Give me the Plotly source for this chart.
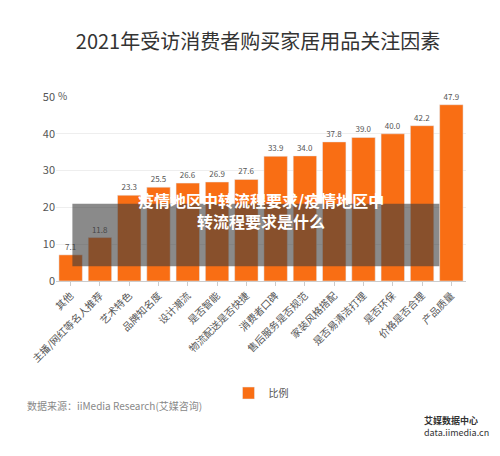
import plotly.graph_objects as go

categories = ["其他", "主播/网红等名人推荐", "艺术特色", "品牌知名度", "设计潮流", "是否智能",
              "物流配送是否快捷", "消费者口碑", "售后服务是否规范", "家装风格搭配",
              "是否易清洁打理", "是否环保", "价格是否合理", "产品质量"]
values = [7.1, 11.8, 23.3, 25.5, 26.6, 26.9, 27.6, 33.9, 34.0, 37.8, 39.0, 40.0, 42.2, 47.9]
yticks = [0, 10, 20, 30, 40, 50]

F = "Noto Sans CJK SC"
fig = go.Figure(go.Bar(
    x=categories, y=values, name="比例", marker_color="#F96E14",
    text=[f"{v:.1f}" for v in values], textposition="outside",
    textfont=dict(size=8, color="#555"), cliponaxis=False, width=0.8,
))
fig.update_layout(
    width=500, height=456, paper_bgcolor="white", plot_bgcolor="white",
    font=dict(family=F, color="#555"),
    margin=dict(l=48, r=42, t=89, b=183, autoexpand=False),
    title=dict(text="2021年受访消费者购买家居用品关注因素", x=0.5, xanchor="center",
               y=0.925, yanchor="middle", font=dict(size=20, color="#333")),
    showlegend=True,
    legend=dict(orientation="h", x=0.5, xanchor="center", y=-0.53, yanchor="top",
                font=dict(size=10, color="#555")),
    bargap=0.2,
)
fig.update_xaxes(tickangle=-45, tickfont=dict(size=10, color="#555"), showline=True,
                 linecolor="#ccc", ticks="outside", tickcolor="#ccc", ticklen=4,
                 automargin=False)
fig.update_yaxes(range=[0, 50], tickvals=yticks, tickfont=dict(size=11, color="#555"),
                 showgrid=True, gridcolor="#eee", zeroline=False, automargin=False)
fig.add_annotation(text="%", xref="paper", yref="paper", x=0.0, y=1.06, xanchor="left",
                   showarrow=False, font=dict(size=10, color="#555"))
fig.add_shape(type="rect", xref="paper", yref="paper", x0=0.04, x1=0.935, y0=0.08, y1=0.42,
              fillcolor="rgba(60,60,60,0.6)", line_width=0, layer="above")
fig.add_annotation(text="<b>疫情地区中转流程要求/疫情地区中<br>转流程要求是什么</b>",
                   xref="paper", yref="paper", x=0.5, y=0.25, showarrow=False,
                   font=dict(size=16, color="white", family=F))
fig.add_annotation(text="数据来源：iiMedia Research(艾媒咨询)", xref="paper", yref="paper",
                   x=-0.075, y=-0.73, xanchor="left", showarrow=False,
                   font=dict(size=10, color="#888"))
fig.add_annotation(text="<b>艾媒数据中心</b><br>data.iimedia.cn", xref="paper", yref="paper",
                   x=1.06, y=-0.87, xanchor="right", showarrow=False, align="left",
                   font=dict(size=9, color="#333"))
fig.write_html("out.html")
